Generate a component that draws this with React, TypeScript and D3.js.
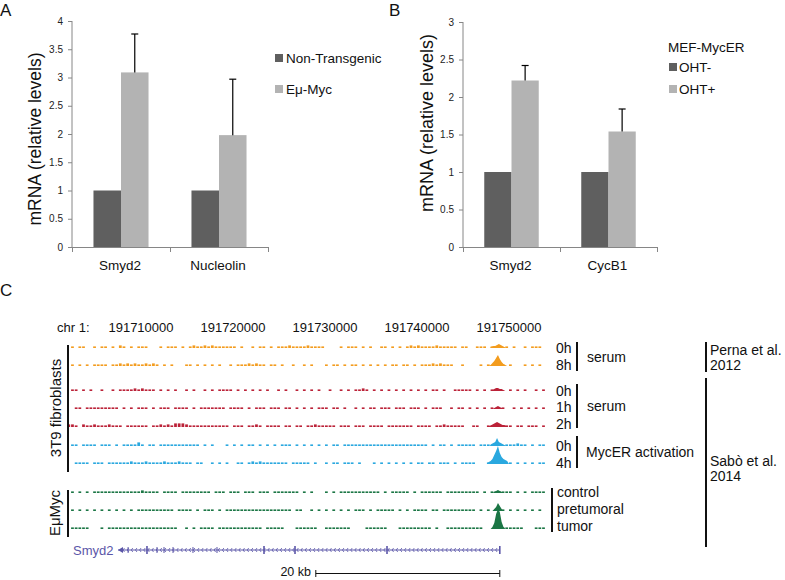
import React from 'react';
import * as d3 from 'd3';

// ---------- Panel A data ----------
const categoriesA = ['Smyd2', 'Nucleolin'];
const seriesA = ['Non-Transgenic', 'Eμ-Myc'];
const valuesA_nonTg = [1, 1];
const valuesA_emu = [3.09, 1.98];
const errA_emu = [0.68, 0.99];
const ticksA = [0, 0.5, 1, 1.5, 2, 2.5, 3, 3.5, 4];

// ---------- Panel B data ----------
const categoriesB = ['Smyd2', 'CycB1'];
const legendTitleB = 'MEF-MycER';
const seriesB = ['OHT-', 'OHT+'];
const valuesB_minus = [1, 1];
const valuesB_plus = [2.22, 1.54];
const errB_plus = [0.2, 0.3];
const ticksB = [0, 0.5, 1, 1.5, 2, 2.5, 3];

// ---------- Panel C data ----------
const chrLabel = 'chr 1:';
const coordTicks = [191710000, 191720000, 191730000, 191740000, 191750000];
const TRACK_START = 191702000;
const BIN = 400;
const PEAK_CENTER = 191748800;
const PEAK_STEP = 200;

const noiseO0 = '0101100101 1010210101 1100010111 0101211212 1111110100 1011010111 2111121111 0000101110 1010011010 1012121111 2111110110 0111010101 0100101110';
const noiseO8 = '0101010111 1011212121 1212101010 0011010101 0100101112 1211011010 0100101000 1011010110 1010101011 0110101112 1211100100 0010101010 1000101010';
const noiseR0 = '0110101001 0010111121 2111010101 0010100101 0111101010 1010100101 0010101010 0100101011 2101010101 0101010101 1010011111 0101010100 1010100101';
const noiseR1 = '0011011111 1111010101 1101011101 1110101111 1110111101 0111011101 1010101011 1011010010 1011011101 1101110101 1100101101 0101010010 0101010101';
const noiseR2 = '2210211211 1211101111 1101121213 3321111111 1111011101 1210111101 1011011211 1110111011 1011110111 1111011110 1121111100 1100110101 1011011101';
const noiseB0 = '0110111101 1101011113 1011011111 1111110101 0001010101 1010101011 1010101010 1011011111 1111111111 1111111101 0110101111 1011111101 1121101011';
const noiseB4 = '0011110111 0111111211 1211112111 2111011001 0101001101 2121111111 0111110100 1011011101 0001010101 0101011011 0111010111 1000101010 1010101011';
const noiseG0 = '0101010111 1111111111 2111101111 0111111110 1110111011 1011101111 1110101000 1010111111 1111101011 1110101111 1101111111 1101011111 1010101111';
const noiseG1 = '0101010101 0101010101 1111111110 1111010111 0101111111 1111111111 1011001010 1010101011 1010111110 1010111101 1011111111 1010101010 1010101010';
const noiseG2 = '0111110001 0111111111 1111111111 0010101111 0111111111 1110111110 0011111100 1111111000 0111111000 1111111110 1001111111 1110001111 1111000111';

const peakO0 = [0, 1, 2, 2, 3, 4, 3, 2, 1, 0];
const peakO8 = [0, 1, 3, 5, 8, 11, 7, 4, 2, 1, 0];
const peakR0 = [0, 1, 2, 3, 3, 2, 2, 1, 0];
const peakR1 = [0, 1, 2, 3, 2, 1, 0];
const peakR2 = [0, 1, 2, 3, 4, 5, 4, 3, 2, 2, 1, 0];
const peakB0 = [0, 2, 3, 4, 8, 4, 3, 2, 1, 0];
const peakB4 = [0, 2, 3, 5, 9, 13, 18, 11, 7, 5, 4, 3, 0];
const peakG0 = [0, 1, 2, 3, 2, 1, 0];
const peakG1 = [0, 2, 4, 8, 5, 2, 0];
const peakG2 = [0, 2, 6, 15, 20, 17, 7, 2, 0];

const geneName = 'Smyd2';
const geneStart = 191707500;
const geneEnd = 191749000;
const exonsMajor = [191710650, 191723370, 191726740, 191736740, 191749000];
const exonsMinor = [191708600, 191711740, 191712500, 191713480, 191715650, 191718260];
const scaleBarStart = 191729000;
const scaleBarEnd = 191749000;
const scaleBarLabel = '20 kb';

const trackNoise = [noiseO0, noiseO8, noiseR0, noiseR1, noiseR2, noiseB0, noiseB4, noiseG0, noiseG1, noiseG2];
const trackPeaks = [peakO0, peakO8, peakR0, peakR1, peakR2, peakB0, peakB4, peakG0, peakG1, peakG2];

// ---------- layout / style ----------
const FONT = 'Liberation Sans, Arial, Helvetica, sans-serif';
const DARK = '#5f5f5f';
const LIGHT = '#b3b3b3';
const AXIS = '#868686';
const ORANGE = '#f39c1e';
const RED = '#bb2238';
const BLUE = '#2aa8df';
const GREEN = '#1b7645';
const GENE = '#5b56a8';
const trackColors = [ORANGE, ORANGE, RED, RED, RED, BLUE, BLUE, GREEN, GREEN, GREEN];
const trackBaselines = [348, 366, 391, 409, 427, 446, 464, 493, 511, 529];

type BarProps = {
  cats: string[]; s1: number[]; s2: number[]; err: number[]; ticks: number[];
  x0: number; x1: number; yBottom: number; yTop: number;
  labelX: number; labelY: number; labelSize: number;
};

function BarPanel(p: BarProps) {
  const y = d3.scaleLinear().domain([0, d3.max(p.ticks) as number]).range([p.yBottom, p.yTop]);
  const xb = d3.scaleBand<string>().domain(p.cats).range([p.x0, p.x1]).padding(0);
  const xi = d3.scaleBand<string>().domain(['a', 'b']).range([0, xb.bandwidth()]).paddingInner(0).paddingOuter(0.78);
  const bw = xi.bandwidth();
  return (
    <g>
      {p.cats.map((c, i) => {
        const bx = xb(c) as number;
        const xa = bx + (xi('a') as number);
        const xc = bx + (xi('b') as number);
        const cx = xc + bw / 2;
        const top = y(p.s2[i] + p.err[i]);
        return (
          <g key={c}>
            <rect x={xa} y={y(p.s1[i])} width={bw} height={y(0) - y(p.s1[i])} fill={DARK} />
            <rect x={xc} y={y(p.s2[i])} width={bw} height={y(0) - y(p.s2[i])} fill={LIGHT} />
            <line x1={cx} x2={cx} y1={y(p.s2[i])} y2={top} stroke="#000" strokeWidth={1.2} />
            <line x1={cx - 3.5} x2={cx + 3.5} y1={top} y2={top} stroke="#000" strokeWidth={1.2} />
            <text x={bx + xb.bandwidth() / 2 - 1} y={y(0) + 23} textAnchor="middle" fontSize={13.5} fill="#111">{c}</text>
          </g>
        );
      })}
      <line x1={p.x0} x2={p.x0} y1={y(0)} y2={y(d3.max(p.ticks) as number)} stroke={AXIS} />
      <line x1={p.x0} x2={p.x1} y1={y(0) + 0.5} y2={y(0) + 0.5} stroke={AXIS} />
      {p.ticks.map(t => (
        <g key={t}>
          <line x1={p.x0 - 4} x2={p.x0} y1={y(t) + 0.5} y2={y(t) + 0.5} stroke={AXIS} />
          <text x={p.x0 - 9} y={y(t)} dy="0.35em" textAnchor="end" fontSize={10} fill="#222">{t}</text>
        </g>
      ))}
      {[p.x0, (xb(p.cats[1]) as number), p.x1].map((tx, i) => (
        <line key={i} x1={tx + 0.5} x2={tx + 0.5} y1={y(0)} y2={y(0) + 5} stroke={AXIS} />
      ))}
      <text transform={`translate(${p.labelX},${p.labelY}) rotate(-90)`} textAnchor="middle" fontSize={p.labelSize} fill="#111">mRNA (relative levels)</text>
    </g>
  );
}

function GenomePanel() {
  const xG = d3.scaleLinear().domain([coordTicks[0], coordTicks[coordTicks.length - 1]]).range([141, 509]);
  const sig = d3.scaleLinear().domain([0, 1]).range([0, 1]);
  const noiseH = d3.scaleLinear().domain([0, 1, 3]).range([0, 1.6, 3.6]);
  const binPx = xG(TRACK_START + BIN) - xG(TRACK_START);
  const chevrons: number[] = [];
  for (let g = geneStart + 600; g < geneEnd - 200; g += 450) chevrons.push(g);
  const gy = 550;
  return (
    <g>
      <text x={57} y={332} fontSize={13} fill="#111">{chrLabel}</text>
      {coordTicks.map(t => (
        <text key={t} x={xG(t)} y={332} textAnchor="middle" fontSize={13} fill="#111">{t}</text>
      ))}
      {trackNoise.map((ns, ti) => {
        const s = ns.replace(/ /g, '');
        const base = trackBaselines[ti];
        const pk = trackPeaks[ti];
        const area = d3.area<number>()
          .x((_, i) => xG(PEAK_CENTER + (i - (pk.length - 1) / 2) * PEAK_STEP))
          .y0(base)
          .y1(d => base - sig(d));
        return (
          <g key={ti} fill={trackColors[ti]}>
            {s.split('').map((c, i) => {
              const v = +c;
              if (!v) return null;
              const h = noiseH(v);
              return <rect key={i} x={xG(TRACK_START + i * BIN)} y={base - h} width={binPx * 0.75} height={h} />;
            })}
            <path d={area(pk) || ''} />
          </g>
        );
      })}
      {/* gene */}
      <text x={73} y={gy + 4.5} fontSize={13} fill={GENE}>{geneName}</text>
      <line x1={xG(geneStart)} x2={xG(geneEnd)} y1={gy} y2={gy} stroke={GENE} strokeWidth={1} />
      <path d={`M${xG(geneStart)},${gy} l5,-3 l0,6 z`} fill={GENE} />
      {chevrons.map(g => (
        <path key={g} d={`M${xG(g) + 1},${gy - 2} L${xG(g) - 0.5},${gy} L${xG(g) + 1},${gy + 2}`} stroke={GENE} strokeWidth={0.8} fill="none" />
      ))}
      {exonsMinor.map(g => (
        <line key={g} x1={xG(g)} x2={xG(g)} y1={gy - 3} y2={gy + 3} stroke={GENE} strokeWidth={1} />
      ))}
      {exonsMajor.map(g => (
        <line key={g} x1={xG(g)} x2={xG(g)} y1={gy - 4} y2={gy + 4} stroke={GENE} strokeWidth={1.6} />
      ))}
      {/* scale bar */}
      <text x={311} y={576} textAnchor="end" fontSize={12.5} fill="#111">{scaleBarLabel}</text>
      <line x1={xG(scaleBarStart)} x2={xG(scaleBarEnd)} y1={573.5} y2={573.5} stroke="#111" strokeWidth={1} />
      <line x1={xG(scaleBarStart)} x2={xG(scaleBarStart)} y1={570} y2={577} stroke="#111" />
      <line x1={xG(scaleBarEnd)} x2={xG(scaleBarEnd)} y1={570} y2={577} stroke="#111" />

      {/* left group labels */}
      <line x1={68} x2={68} y1={345} y2={472} stroke="#111" strokeWidth={2} />
      <text transform="translate(61,408) rotate(-90)" textAnchor="middle" fontSize={15} fill="#111">3T9 fibroblasts</text>
      <line x1={68} x2={68} y1={490} y2={537} stroke="#111" strokeWidth={2} />
      <text transform="translate(60,513) rotate(-90)" textAnchor="middle" fontSize={15} fill="#111">EμMyc</text>

      {/* right labels */}
      <g fontSize={14} fill="#111">
        <text x={556} y={353}>0h</text>
        <text x={556} y={370}>8h</text>
        <text x={587} y={362}>serum</text>
        <text x={556} y={396}>0h</text>
        <text x={556} y={412}>1h</text>
        <text x={556} y={429}>2h</text>
        <text x={587} y={411}>serum</text>
        <text x={556} y={451}>0h</text>
        <text x={556} y={468}>4h</text>
        <text x={586} y={457}>MycER activation</text>
        <text x={557} y={497}>control</text>
        <text x={557} y={514}>pretumoral</text>
        <text x={557} y={531}>tumor</text>
        <text x={710} y={355}>Perna et al.</text>
        <text x={710} y={370}>2012</text>
        <text x={710} y={466}>Sabò et al.</text>
        <text x={710} y={481}>2014</text>
      </g>
      <g stroke="#111" strokeWidth={2}>
        <line x1={577} x2={577} y1={342} y2={371} />
        <line x1={577} x2={577} y1={384} y2={428} />
        <line x1={577} x2={577} y1={436} y2={468} />
        <line x1={552} x2={552} y1={488} y2={532} />
        <line x1={706} x2={706} y1={342} y2={372} />
        <line x1={706} x2={706} y1={378} y2={547} />
      </g>
    </g>
  );
}

export default function App() {
  return (
    <svg width={785} height={580} style={{ position: 'absolute', left: 0, top: 0, background: '#fff' }} fontFamily={FONT}>
      <rect width={785} height={580} fill="#fff" />
      <text x={0} y={16} fontSize={17} fill="#111">A</text>
      <text x={389} y={16} fontSize={17} fill="#111">B</text>
      <text x={0} y={296} fontSize={17} fill="#111">C</text>

      <BarPanel cats={categoriesA} s1={valuesA_nonTg} s2={valuesA_emu} err={errA_emu} ticks={ticksA}
        x0={72} x1={268} yBottom={247} yTop={21} labelX={41} labelY={139} labelSize={17.5} />
      <g fontSize={13.5} fill="#111">
        <rect x={275} y={54} width={8} height={8} fill={DARK} />
        <text x={286} y={63}>{seriesA[0]}</text>
        <rect x={275} y={85} width={8} height={8} fill={LIGHT} />
        <text x={286} y={94}>{seriesA[1]}</text>
      </g>

      <BarPanel cats={categoriesB} s1={valuesB_minus} s2={valuesB_plus} err={errB_plus} ticks={ticksB}
        x0={463} x1={657} yBottom={247} yTop={22} labelX={433} labelY={123} labelSize={18} />
      <g fontSize={13.5} fill="#111">
        <text x={668} y={52}>{legendTitleB}</text>
        <rect x={669} y={63} width={8} height={8} fill={DARK} />
        <text x={679} y={72}>{seriesB[0]}</text>
        <rect x={669} y={85} width={8} height={8} fill={LIGHT} />
        <text x={679} y={94}>{seriesB[1]}</text>
      </g>

      <GenomePanel />
    </svg>
  );
}
